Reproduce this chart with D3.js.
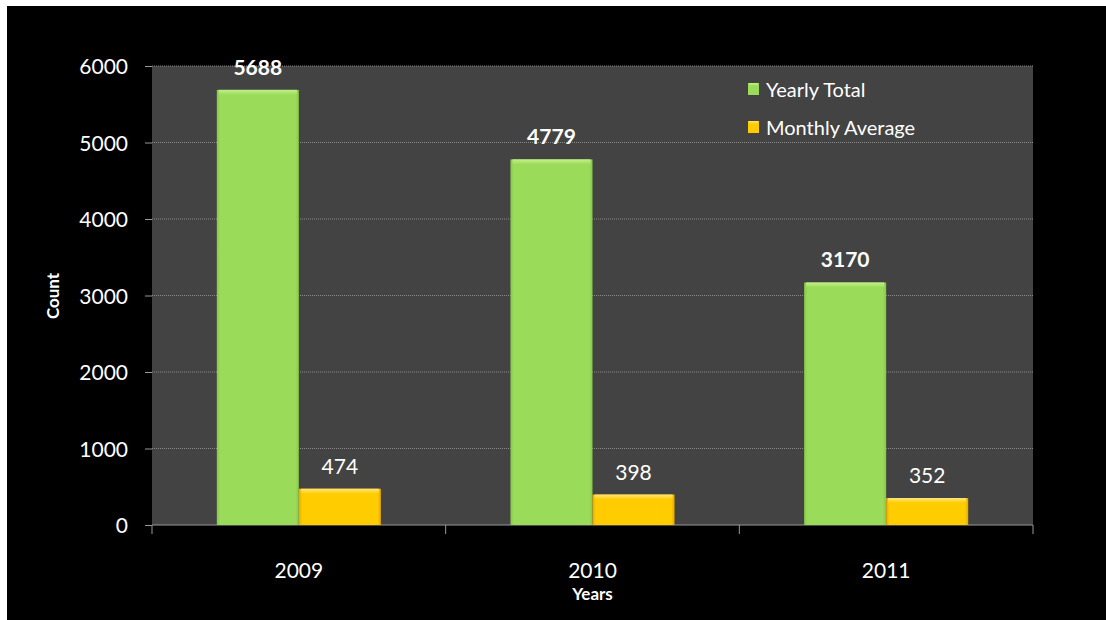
<!DOCTYPE html>
<html><head><meta charset="utf-8">
<script src="https://cdn.jsdelivr.net/npm/d3@7"></script>
<style>
html,body{margin:0;padding:0;background:#fff;}
svg{display:block;}
text{font-family:Lato,"Open Sans",sans-serif;fill:#fff;}
</style></head>
<body>
<script>
const categories = ["2009","2010","2011"];
const yearlyTotal = [5688, 4779, 3170];
const monthlyAverage = [474, 398, 352];
const seriesNames = ["Yearly Total","Monthly Average"];
const yTicks = [0,1000,2000,3000,4000,5000,6000];

const W=1106,H=620;
const svg=d3.select("body").append("svg").attr("width",W).attr("height",H);
const defs=svg.append("defs");
function grad(id,top,mid){
  const g=defs.append("linearGradient").attr("id",id).attr("x1",0).attr("x2",0).attr("y1",0).attr("y2",1);
  g.append("stop").attr("offset","0%").attr("stop-color",top);
  g.append("stop").attr("offset","100%").attr("stop-color",mid);
}
function hgrad(id,edge,mid){
  const g=defs.append("linearGradient").attr("id",id).attr("x1",0).attr("x2",1).attr("y1",0).attr("y2",0);
  g.append("stop").attr("offset","0%").attr("stop-color",edge);
  g.append("stop").attr("offset","4%").attr("stop-color",mid);
  g.append("stop").attr("offset","96%").attr("stop-color",mid);
  g.append("stop").attr("offset","100%").attr("stop-color",edge);
}
hgrad("gG","#86c84a","#9bdb5a");
hgrad("gY","#e8a800","#ffcc00");
grad("tG","#c4f08a","#9bdb5a");
grad("tY","#ffe680","#ffcc00");

svg.append("rect").attr("x",7).attr("y",6).attr("width",W-7).attr("height",H-6).attr("fill","#000");

const m={l:152,r:1033,t:66,b:525};
svg.append("rect").attr("x",m.l).attr("y",m.t).attr("width",m.r-m.l).attr("height",m.b-m.t).attr("fill","#434343");

const y=d3.scaleLinear().domain([0,6000]).range([m.b,m.t]);
const x0=d3.scaleBand().domain(categories).range([m.l,m.r]).paddingInner(0).paddingOuter(0);
const x1=d3.scaleBand().domain(seriesNames).range([0,x0.bandwidth()]).paddingInner(0).paddingOuter(0.79);

// gridlines
svg.append("g").selectAll("line").data(yTicks.filter(d=>d>0)).join("line")
  .attr("x1",m.l).attr("x2",m.r).attr("y1",d=>y(d)).attr("y2",d=>y(d))
  .attr("stroke","#8a8a8a").attr("stroke-width",1).attr("stroke-dasharray","1,1");

// y axis
const ya=svg.append("g").attr("transform",`translate(${m.l},0)`)
  .call(d3.axisLeft(y).tickValues(yTicks).tickSize(7).tickPadding(17).tickFormat(d3.format("d")));
ya.select(".domain").remove();
ya.selectAll("line").attr("stroke","#999");
ya.selectAll("text").attr("font-size",21).attr("fill","#fff").attr("font-family","Lato,sans-serif").attr("dy","0.36em");

// x axis
const xa=svg.append("g").attr("transform",`translate(0,${m.b})`);
xa.append("line").attr("x1",m.l).attr("x2",m.r).attr("stroke","#999");
const seps=[m.l, ...categories.map(c=>x0(c)+x0.bandwidth())];
xa.selectAll(".sep").data(seps).join("line").attr("class","sep")
  .attr("x1",d=>d).attr("x2",d=>d).attr("y1",0).attr("y2",9).attr("stroke","#999");
xa.selectAll(".cl").data(categories).join("text").attr("class","cl")
  .attr("x",d=>x0(d)+x0.bandwidth()/2).attr("y",53).attr("text-anchor","middle")
  .attr("font-size",21).text(d=>d);

svg.append("text").attr("x",(m.l+m.r)/2).attr("y",600).attr("text-anchor","middle")
  .attr("font-size",17).attr("font-weight","bold").text("Years");
svg.append("text").attr("transform","translate(59,296) rotate(-90)").attr("text-anchor","middle")
  .attr("font-size",17).attr("font-weight","bold").text("Count");

// bars
const series=[
  {name:seriesNames[0],vals:yearlyTotal,fill:"url(#gG)",top:"url(#tG)",bold:true},
  {name:seriesNames[1],vals:monthlyAverage,fill:"url(#gY)",top:"url(#tY)",bold:false}
];
series.forEach(s=>{
  const g=svg.append("g");
  g.selectAll("rect.b").data(categories).join("rect").attr("class","b")
    .attr("x",c=>x0(c)+x1(s.name)).attr("width",x1.bandwidth())
    .attr("y",(c,i)=>y(s.vals[i])).attr("height",(c,i)=>y(0)-y(s.vals[i]))
    .attr("fill",s.fill);
  g.selectAll("rect.t").data(categories).join("rect").attr("class","t")
    .attr("x",c=>x0(c)+x1(s.name)+2).attr("width",x1.bandwidth()-4)
    .attr("y",(c,i)=>y(s.vals[i])).attr("height",5)
    .attr("fill",s.top);
  g.selectAll("text").data(categories).join("text")
    .attr("x",c=>x0(c)+x1(s.name)+x1.bandwidth()/2)
    .attr("y",(c,i)=>y(s.vals[i])-15)
    .attr("text-anchor","middle").attr("font-size",21)
    .attr("font-weight",s.bold?"bold":"normal")
    .text((c,i)=>s.vals[i]);
});

// legend
const lg=svg.append("g");
series.forEach((s,i)=>{
  const yy=83+i*38;
  lg.append("rect").attr("x",748).attr("y",yy).attr("width",11).attr("height",12).attr("fill",s.fill);
  lg.append("rect").attr("x",749).attr("y",yy).attr("width",9).attr("height",3).attr("fill",s.top);
  lg.append("text").attr("x",766).attr("y",yy+14).attr("font-size",20).text(s.name);
});
</script>
</body></html>
